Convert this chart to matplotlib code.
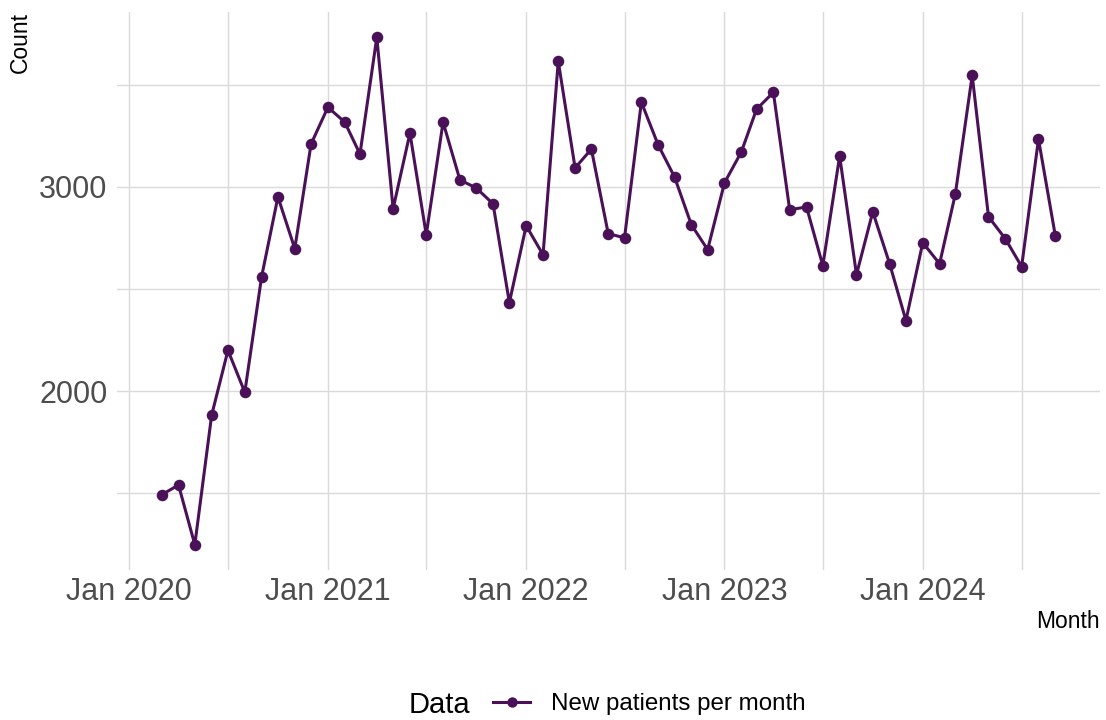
import numpy as np
import pandas as pd
import matplotlib
matplotlib.use("Agg")
import matplotlib.pyplot as plt
import matplotlib.dates as mdates
from matplotlib.ticker import FixedLocator

plt.rcParams['font.family'] = ['Liberation Sans', 'DejaVu Sans']

# monthly new patients, Mar 2020 .. Sep 2024
months = pd.date_range('2020-03-01', periods=55, freq='MS')
counts = [1493, 1541, 1249, 1883, 2200, 1995, 2561, 2951, 2698, 3210,
          3390, 3317, 3161, 3732, 2893, 3263, 2766, 3317, 3034, 2995, 2917, 2434,
          2810, 2668, 3615, 3093, 3185, 2771, 2751, 3415, 3205, 3049, 2815, 2693,
          3020, 3171, 3380, 3463, 2888, 2902, 2615, 3151, 2571, 2878, 2624, 2346,
          2727, 2624, 2966, 3546, 2854, 2746, 2610, 3234, 2761]
series_name = 'New patients per month'
y_major = [2000, 3000]
y_minor = [1500, 2500, 3500]

col = '#4B1158'
grid = '#DADADA'

fig = plt.figure(figsize=(11.06, 7.2), dpi=100)
W, H = 1106, 720
ax = fig.add_axes([117 / W, 1 - 570 / H, (1100 - 117) / W, (570 - 12) / H])

line, = ax.plot(months, counts, color=col, lw=2.2, marker='o', ms=8.3,
                markeredgewidth=0, label=series_name)

ax.margins(x=0.05, y=0.05)

ax.xaxis.set_major_locator(mdates.YearLocator())
ax.xaxis.set_major_formatter(mdates.DateFormatter('%b %Y'))
ax.xaxis.set_minor_locator(mdates.MonthLocator(bymonth=7))
ax.yaxis.set_major_locator(FixedLocator(y_major))
ax.yaxis.set_minor_locator(FixedLocator(y_minor))

ax.grid(True, which='both', color=grid, lw=1.0)
ax.set_axisbelow(True)
for s in ax.spines.values():
    s.set_visible(False)
ax.tick_params(which='both', length=0)
ax.tick_params(axis='x', labelsize=22, labelcolor='#4D4D4D', pad=5)
ax.tick_params(axis='y', labelsize=22, labelcolor='#4D4D4D', pad=7)

fig.text(20 / W, 1 - 12 / H, 'Count', rotation=90, ha='center', va='top', fontsize=16.5)
fig.text(1100 / W, 1 - 622 / H, 'Month', ha='right', va='center', fontsize=16.5)

fig.text(409 / W, 1 - 705 / H, 'Data', ha='left', va='center', fontsize=21)
fig.legend(handles=[line], loc='center left', bbox_to_anchor=(493 / W, 1 - 704 / H),
           frameon=False, borderpad=0, borderaxespad=0, fontsize=17.4,
           handlelength=1.55, handletextpad=0.85, markerscale=0.9)

fig.savefig('out.png', dpi=100)
